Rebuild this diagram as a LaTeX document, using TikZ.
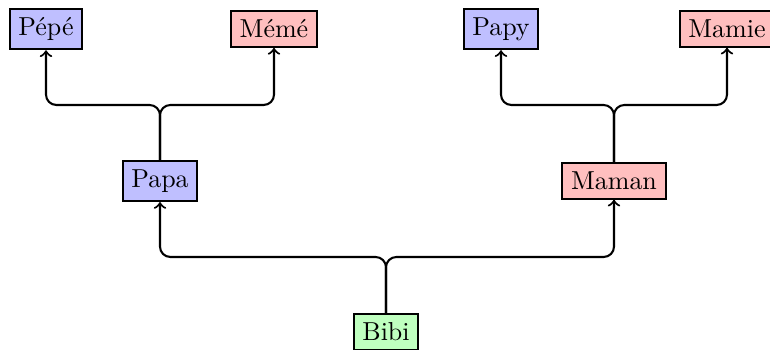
\documentclass[tikz,border=0pt]{standalone}
\usetikzlibrary{calc}
\begin{document}
\begin{tikzpicture}[x=0.385pt,y=-0.385pt,
  person/.style={draw,thick,inner sep=0.3333em},
  male/.style={person,fill=blue!25},
  female/.style={person,fill=red!25},
  child/.style={person,fill=green!25},
  arr/.style={->,thick,rounded corners=4pt}]
\useasboundingbox (0,0) rectangle (770,350);
\node[male]   (pepe)  at (46,29)  {Pépé};
\node[female] (meme)  at (274,29) {Mémé};
\node[male]   (papy)  at (501,29) {Papy};
\node[female] (mamie) at (727,29) {Mamie};
\node[male]   (papa)  at (160,181) {Papa};
\node[female] (maman) at (614,181) {Maman};
\node[child]  (bibi)  at (386,332) {Bibi};
\coordinate (j1) at (0,105);
\coordinate (j2) at (0,257);
\draw[arr] (papa.north) -- (papa.north |- j1) -| (pepe.south);
\draw[arr] (papa.north) -- (papa.north |- j1) -| (meme.south);
\draw[arr] (maman.north) -- (maman.north |- j1) -| (papy.south);
\draw[arr] (maman.north) -- (maman.north |- j1) -| (mamie.south);
\draw[arr] (bibi.north) -- (bibi.north |- j2) -| (papa.south);
\draw[arr] (bibi.north) -- (bibi.north |- j2) -| (maman.south);
\end{tikzpicture}
\end{document}
